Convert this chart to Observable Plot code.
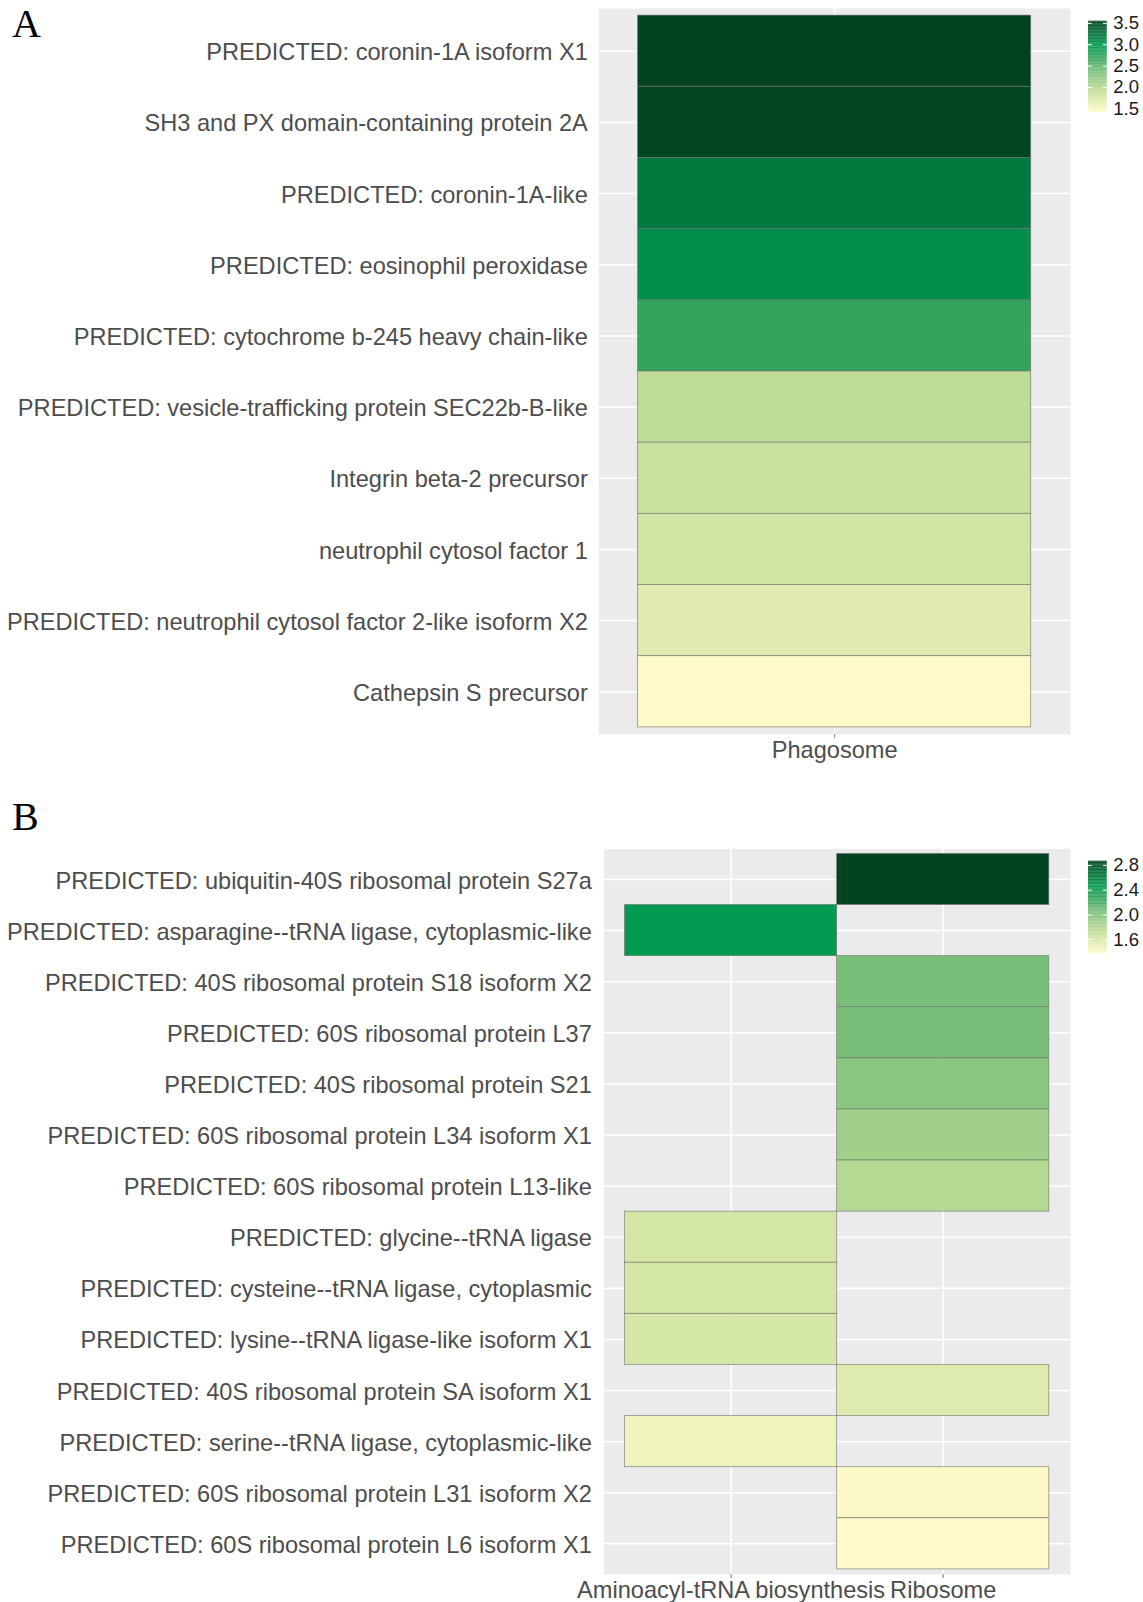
<!DOCTYPE html>
<html><head><meta charset="utf-8">
<script src="https://cdn.jsdelivr.net/npm/d3@7"></script>
<script src="https://cdn.jsdelivr.net/npm/@observablehq/plot@0.6"></script>
<style>
body{margin:0;background:#fff;}
#root{position:relative;width:1143px;height:1602px;overflow:hidden;font-family:"Liberation Sans",Arial,sans-serif;}
.abs{position:absolute;}
.letter{font-family:"Liberation Serif","Times New Roman",serif;font-size:40px;line-height:40px;color:#000;}
</style></head><body><div id="root"></div>
<script>
// ---------- Data ----------
const phagoPathways = ["Phagosome"];
const phagoGenes = [
  "PREDICTED: coronin-1A isoform X1",
  "SH3 and PX domain-containing protein 2A",
  "PREDICTED: coronin-1A-like",
  "PREDICTED: eosinophil peroxidase",
  "PREDICTED: cytochrome b-245 heavy chain-like",
  "PREDICTED: vesicle-trafficking protein SEC22b-B-like",
  "Integrin beta-2 precursor",
  "neutrophil cytosol factor 1",
  "PREDICTED: neutrophil cytosol factor 2-like isoform X2",
  "Cathepsin S precursor"
];
const phagoValues = [3.55, 3.53, 3.19, 3.04, 2.70, 1.95, 1.86, 1.80, 1.68, 1.42];

const riboPathways = ["Aminoacyl-tRNA biosynthesis", "Ribosome"];
const riboGenes = [
  "PREDICTED: ubiquitin-40S ribosomal protein S27a",
  "PREDICTED: asparagine--tRNA ligase, cytoplasmic-like",
  "PREDICTED: 40S ribosomal protein S18 isoform X2",
  "PREDICTED: 60S ribosomal protein L37",
  "PREDICTED: 40S ribosomal protein S21",
  "PREDICTED: 60S ribosomal protein L34 isoform X1",
  "PREDICTED: 60S ribosomal protein L13-like",
  "PREDICTED: glycine--tRNA ligase",
  "PREDICTED: cysteine--tRNA ligase, cytoplasmic",
  "PREDICTED: lysine--tRNA ligase-like isoform X1",
  "PREDICTED: 40S ribosomal protein SA isoform X1",
  "PREDICTED: serine--tRNA ligase, cytoplasmic-like",
  "PREDICTED: 60S ribosomal protein L31 isoform X2",
  "PREDICTED: 60S ribosomal protein L6 isoform X1"
];
const riboGenePathway = [
  "Ribosome",
  "Aminoacyl-tRNA biosynthesis",
  "Ribosome",
  "Ribosome",
  "Ribosome",
  "Ribosome",
  "Ribosome",
  "Aminoacyl-tRNA biosynthesis",
  "Aminoacyl-tRNA biosynthesis",
  "Aminoacyl-tRNA biosynthesis",
  "Ribosome",
  "Aminoacyl-tRNA biosynthesis",
  "Ribosome",
  "Ribosome"
];
const riboValues = [2.87, 2.465, 2.045, 2.04, 1.96, 1.875, 1.78, 1.62, 1.62, 1.61, 1.56, 1.455, 1.38, 1.37];

const legendTicksA = [1.5, 2.0, 2.5, 3.0, 3.5];
const legendTicksB = [1.6, 2.0, 2.4, 2.8];

// colour ramp (fractions of each panel's value range)
const rampFractions = [0, 0.25, 0.45, 0.6, 0.73, 1];
const rampColors = ["#fffac8", "#bddc95", "#78bf7a", "#34a45c", "#009a50", "#00441f"];

// ---------- Helpers ----------
const FONT = '"Liberation Sans", Arial, sans-serif';
function colorScale(values) {
  const [lo, hi] = d3.extent(values);
  return {type: "linear", domain: rampFractions.map(f => lo + f * (hi - lo)), range: rampColors, interpolate: "rgb"};
}

function heatmap({rows, genes, pathways, values, width, height, marginTop, marginBottom, marginLeft, marginRight, yPad}) {
  return Plot.plot({
    width, height, marginTop, marginBottom, marginLeft, marginRight,
    style: {fontFamily: FONT, fontSize: "23.6px", color: "#4d4d4d", background: "transparent", overflow: "visible"},
    x: {type: "band", domain: pathways, paddingInner: 0, paddingOuter: 0.1, round: false, label: null},
    y: {type: "band", domain: genes, paddingInner: 0, paddingOuter: 0.1, round: false, label: null},
    color: colorScale(values),
    marks: [
      Plot.frame({fill: "#ebebeb", stroke: "none"}),
      Plot.gridX({stroke: "white", strokeOpacity: 1, strokeWidth: 1.5}),
      Plot.gridY({stroke: "white", strokeOpacity: 1, strokeWidth: 1.5}),
      Plot.cell(rows, {x: "pathway", y: "gene", fill: "value", stroke: "#707070", strokeOpacity: 0.75, strokeWidth: 0.8, inset: 0}),
      Plot.axisX({tickSize: 4, tickPadding: 3, fontSize: 23.6, label: null, fill: "#4d4d4d", stroke: "#777"}),
      Plot.axisY({tickSize: 0, tickPadding: yPad, dy: 1.5, fontSize: 23.6, label: null, fill: "#4d4d4d"})
    ]
  });
}

function colorbar(values, ticks, {height, marginTop, marginBottom}) {
  const [lo, hi] = d3.extent(values);
  const n = 120, step = (hi - lo) / n;
  const steps = d3.range(n).map(i => lo + step * i);
  return Plot.plot({
    width: 63, height, marginLeft: 8, marginRight: 36.3, marginTop, marginBottom,
    style: {fontFamily: FONT, background: "transparent", overflow: "visible"},
    x: {domain: [0, 1], axis: null},
    y: {domain: [lo, hi], label: null},
    color: colorScale(values),
    marks: [
      Plot.rect(steps, {x1: 0, x2: 1, y1: d => d, y2: d => Math.min(hi, d + step * 1.2), fill: d => d + step / 2}),
      Plot.ruleY(ticks, {y: d => d, x1: 0, x2: 0.2, stroke: "white", strokeWidth: 1}),
      Plot.ruleY(ticks, {y: d => d, x1: 0.8, x2: 1, stroke: "white", strokeWidth: 1}),
      Plot.axisY(ticks, {anchor: "right", tickSize: 0, tickPadding: 6, fontSize: 18.5, fill: "#1a1a1a", tickFormat: d3.format(".1f"), label: null})
    ]
  });
}

function place(el, left, top) {
  el.classList.add("abs");
  el.style.left = left + "px";
  el.style.top = top + "px";
  root.appendChild(el);
}
function letter(txt, left, top) {
  const d = document.createElement("div");
  d.className = "letter";
  d.textContent = txt;
  place(d, left, top);
}

const root = document.getElementById("root");

// ---------- Panel A ----------
const rowsA = phagoGenes.map((g, i) => ({gene: g, pathway: phagoPathways[0], value: phagoValues[i]}));
place(heatmap({rows: rowsA, genes: phagoGenes, pathways: phagoPathways, values: phagoValues,
  width: 1143, height: 780, marginTop: 8, marginBottom: 46, marginLeft: 598.3, marginRight: 73, yPad: 11}), 0, 0);
place(colorbar(phagoValues, legendTicksA, {height: 130, marginTop: 20.7, marginBottom: 18.3}), 1080, 0);
letter("A", 12, 3.5);

// ---------- Panel B ----------
const rowsB = riboGenes.map((g, i) => ({gene: g, pathway: riboGenePathway[i], value: riboValues[i]}));
place(heatmap({rows: rowsB, genes: riboGenes, pathways: riboPathways, values: riboValues,
  width: 1143, height: 822, marginTop: 68.3, marginBottom: 28, marginLeft: 603.3, marginRight: 73, yPad: 12}), 0, 780);
place(colorbar(riboValues, legendTicksB, {height: 130, marginTop: 20.7, marginBottom: 16.7}), 1080, 840);
letter("B", 12, 796.5);
</script>
</body></html>
